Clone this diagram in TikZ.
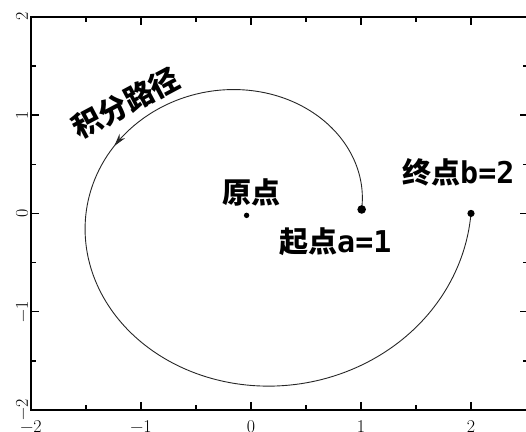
\documentclass[tikz,border=0pt]{standalone}
\usepackage{fontspec}
\newfontfamily\cjk{Noto Sans CJK SC}
\newfontfamily\monof{DejaVu Sans Mono}
\usetikzlibrary{arrows.meta}
\begin{document}
\begin{tikzpicture}[x=110pt,y=98.3pt,
  frame/.style={line width=1.8pt},
  tickline/.style={line width=1.4pt},
  curve/.style={line width=0.9pt, black!85},
  lab/.style={font=\fontsize{29}{32}\selectfont\cjk\bfseries, inner sep=0pt},
  axlab/.style={font=\fontsize{18}{20}\selectfont, inner sep=0pt},
  dotmark/.style={fill=black, circle, inner sep=0pt}]
\useasboundingbox (-2.28182,2.17090) rectangle (2.5,-2.21363);
% frame
\draw[frame] (-2,-2) rectangle (2.52,2);
% ticks
\foreach \x in {-1,0,1,2}{
  \draw[tickline] (\x,2) -- ++(0,-8pt);
  \draw[tickline] (\x,-2) -- ++(0,8pt);
}
\foreach \x in {-1.5,-0.5,0.5,1.5}{
  \draw[tickline] (\x,2) -- ++(0,-5pt);
  \draw[tickline] (\x,-2) -- ++(0,5pt);
}
\foreach \y in {-1,0,1}{
  \draw[tickline] (-2,\y) -- ++(8pt,0);
  \draw[tickline] (2.52,\y) -- ++(-8pt,0);
}
\foreach \y in {-1.5,-0.5,0.5,1.5}{
  \draw[tickline] (-2,\y) -- ++(5pt,0);
  \draw[tickline] (2.52,\y) -- ++(-5pt,0);
}
% tick labels
\foreach \v/\t in {-2/−2,-1/−1,0/0,1/1,2/2}{
  \node[axlab, anchor=north] (xl\v) at (\v,-2.107) {\t};
  \node[axlab, rotate=90] (yl\v) at (-2.082,\v) {\t};
}
% spiral
\coordinate (start) at (1.006,0.040);
\coordinate (finish) at (2,0);
\draw[curve, -{Stealth[length=13pt,width=7pt]}] plot[domain=0.04:2.64, samples=120, variable=\t]
  ({(1+\t/(2*pi))*cos(\t r)}, {(1+\t/(2*pi))*sin(\t r)});
\draw[curve] plot[domain=2.58:6.2832, samples=180, variable=\t]
  ({(1+\t/(2*pi))*cos(\t r)}, {(1+\t/(2*pi))*sin(\t r)});
% dots
\node[dotmark, minimum size=8.6pt] (startdot) at (start) {};
\node[dotmark, minimum size=7.2pt] (enddot) at (finish) {};
\node[dotmark, minimum size=5.4pt] (origindot) at (-0.04,-0.02) {};
% labels
\node[lab, rotate=28] (pathlab) at (-1.136,1.123) {积分路径};
\node[lab] (origlab) at (0,0.2177) {原点};
\node[lab, anchor=base west] (alab) at (0.2545,-0.3927) {起点{\fontsize{30}{32}\selectfont\monof a=1}};
\node[lab, anchor=base west] (blab) at (1.373,0.309) {终点{\fontsize{30}{32}\selectfont\monof b=2}};
\end{tikzpicture}
\end{document}
